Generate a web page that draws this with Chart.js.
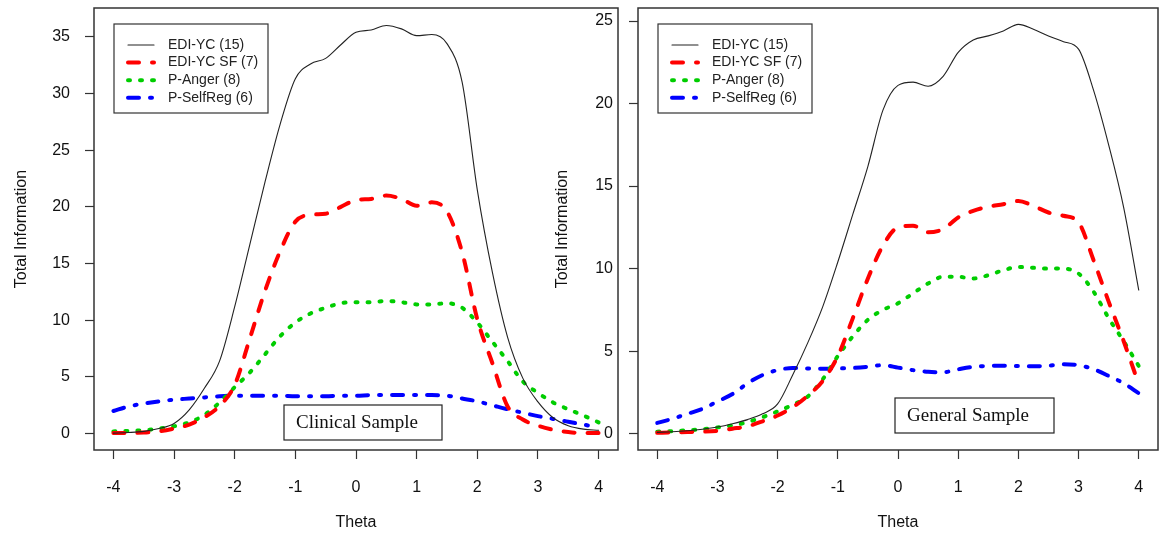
<!DOCTYPE html>
<html>
<head>
<meta charset="utf-8">
<script src="https://cdn.jsdelivr.net/npm/chart.js@4.4.0/dist/chart.umd.min.js"></script>
<style>
html, body { margin: 0; padding: 0; background: #fff; }
#wrap { position: relative; width: 1160px; height: 533px; overflow: hidden; }
canvas { position: absolute; top: 0; }
#clinical { left: 0; }
#general { left: 540px; }
</style>
</head>
<body>
<div id="wrap">
<canvas id="clinical" width="620" height="533"></canvas>
<canvas id="general" width="620" height="533"></canvas>
</div>
<script>
// theta grid the information curves were read at
var theta = [-4, -3.75, -3.5, -3.25, -3, -2.75, -2.5, -2.25, -2, -1.75, -1.5, -1.25, -1, -0.75, -0.5, -0.25,
    0, 0.25, 0.5, 0.75, 1, 1.25, 1.5, 1.75, 2, 2.25, 2.5, 2.75, 3, 3.25, 3.5, 3.75, 4];

var seriesNames = ['EDI-YC (15)', 'EDI-YC SF (7)', 'P-Anger (8)', 'P-SelfReg (6)'];

// clinical sample
var clinicalEdiYc = [0.05, 0.1, 0.2, 0.45, 0.9, 2.1, 4.0, 6.4, 11.2, 16.7, 22.2, 27.3, 31.3, 32.6, 33.1, 34.3,
    35.4, 35.6, 36.0, 35.7, 35.1, 35.2, 34.4, 31.0, 21.5, 14.2, 8.5, 4.9, 2.8, 1.4, 0.7, 0.4, 0.3];
var clinicalEdiYcSf = [0.05, 0.05, 0.1, 0.2, 0.45, 0.8, 1.45, 2.45, 4.3, 8.4, 12.6, 16.1, 18.7, 19.3, 19.4, 20.0,
    20.6, 20.7, 21.0, 20.7, 20.1, 20.4, 19.6, 16.0, 10.1, 6.2, 2.4, 1.25, 0.7, 0.35, 0.15, 0.05, 0.05];
var clinicalAnger = [0.2, 0.25, 0.3, 0.45, 0.65, 1.0, 1.65, 2.75, 4.1, 5.4, 7.0, 8.6, 9.8, 10.6, 11.1, 11.5,
    11.6, 11.6, 11.7, 11.6, 11.4, 11.4, 11.5, 11.1, 9.8, 8.1, 6.4, 4.6, 3.6, 2.75, 2.15, 1.6, 1.0];
var clinicalSelfReg = [2.0, 2.4, 2.65, 2.85, 3.0, 3.1, 3.2, 3.3, 3.35, 3.35, 3.35, 3.35, 3.3, 3.3, 3.3, 3.35,
    3.35, 3.4, 3.4, 3.4, 3.4, 3.4, 3.35, 3.1, 2.85, 2.5, 2.15, 1.85, 1.55, 1.3, 1.05, 0.8, 0.55];

// general sample
var generalEdiYc = [0.08, 0.12, 0.18, 0.27, 0.4, 0.6, 0.85, 1.2, 1.8, 3.55, 5.5, 7.7, 10.4, 13.3, 16.2, 19.6,
    21.1, 21.3, 21.05, 21.65, 23.1, 23.85, 24.1, 24.4, 24.8, 24.5, 24.1, 23.75, 23.3, 20.8, 17.5, 13.7, 8.7];
var generalEdiYcSf = [0.05, 0.07, 0.1, 0.12, 0.17, 0.3, 0.45, 0.75, 1.1, 1.6, 2.3, 3.2, 4.7, 7.0, 9.4, 11.4,
    12.5, 12.6, 12.2, 12.4, 13.1, 13.5, 13.75, 13.9, 14.1, 13.8, 13.4, 13.2, 12.8, 10.5, 8.0, 5.6, 3.0];
var generalAnger = [0.12, 0.15, 0.2, 0.27, 0.38, 0.5, 0.7, 1.0, 1.35, 1.75, 2.25, 3.3, 4.7, 5.9, 6.9, 7.5,
    7.9, 8.5, 9.1, 9.5, 9.5, 9.4, 9.6, 9.9, 10.1, 10.05, 10.0, 10.0, 9.7, 8.6, 7.0, 5.6, 4.1];
var generalSelfReg = [0.65, 0.9, 1.2, 1.5, 1.95, 2.4, 3.05, 3.55, 3.85, 3.98, 3.95, 3.93, 3.95, 3.98, 4.05, 4.15,
    4.0, 3.85, 3.75, 3.72, 3.9, 4.05, 4.1, 4.12, 4.1, 4.08, 4.12, 4.2, 4.15, 3.9, 3.5, 3.05, 2.45];

var thetaTicks = [-4, -3, -2, -1, 0, 1, 2, 3, 4];
var clinicalYTicks = [0, 5, 10, 15, 20, 25, 30, 35];
var generalYTicks = [0, 5, 10, 15, 20, 25];

var SANS = '"Liberation Sans", Arial, sans-serif';
var SERIF = '"Liberation Serif", "Times New Roman", serif';
var lineStyles = [
    {color: '#222222', width: 1.1, dash: []},
    {color: '#ff0000', width: 4, dash: [11, 13]},
    {color: '#00cd00', width: 4, dash: [2, 10]},
    {color: '#0000ff', width: 4, dash: [11, 11, 2, 11]}
];

// R-like box, legend and the sample label
var panelDecor = {
    id: 'panelDecor',
    afterDatasetsDraw: function(chart, args, opts) {
        var ctx = chart.ctx, a = chart.chartArea;
        ctx.save();
        ctx.strokeStyle = '#333';
        ctx.lineWidth = 1.5;
        ctx.strokeRect(a.left, a.top, a.right - a.left, a.bottom - a.top);

        var lx = a.left + opts.legendX, ly = opts.legendY;
        ctx.lineWidth = 1.2;
        ctx.strokeRect(lx, ly, 154, 89);
        ctx.font = '14px ' + SANS;
        ctx.textBaseline = 'middle';
        ctx.textAlign = 'left';
        chart.data.datasets.forEach(function(ds, i) {
            var y = ly + 21 + i * 17.6;
            ctx.beginPath();
            ctx.setLineDash(ds.borderDash || []);
            ctx.lineCap = 'round';
            ctx.strokeStyle = ds.borderColor;
            ctx.lineWidth = ds.borderWidth;
            ctx.moveTo(lx + 14, y);
            ctx.lineTo(lx + 40, y);
            ctx.stroke();
            ctx.setLineDash([]);
            ctx.fillStyle = '#222';
            ctx.fillText(ds.label, lx + 54, y);
        });

        var nx = a.left + opts.noteX, ny = opts.noteY;
        ctx.strokeStyle = '#222';
        ctx.lineWidth = 1.2;
        ctx.strokeRect(nx, ny, opts.noteW, 35);
        ctx.font = '19px ' + SERIF;
        ctx.fillStyle = '#111';
        ctx.fillText(opts.note, nx + 12, ny + 18);
        ctx.restore();
    }
};

function makeSeries(values, i) {
    return {
        label: seriesNames[i],
        data: theta.map(function(t, k) { return {x: t, y: values[k]}; }),
        borderColor: lineStyles[i].color,
        borderWidth: lineStyles[i].width,
        borderDash: lineStyles[i].dash,
        borderCapStyle: 'round',
        borderJoinStyle: 'round',
        cubicInterpolationMode: 'monotone',
        pointRadius: 0,
        fill: false
    };
}

function renderPanel(id, series, p) {
    var tickGrid = {drawOnChartArea: false, drawTicks: true, tickLength: 9, tickColor: '#333', tickWidth: 1.2};
    return new Chart(document.getElementById(id), {
        type: 'line',
        data: {datasets: series.map(makeSeries)},
        plugins: [panelDecor],
        options: {
            responsive: false,
            animation: false,
            events: [],
            layout: {padding: {top: 8, right: 2, left: 0, bottom: 0}},
            plugins: {
                legend: {display: false},
                tooltip: {enabled: false},
                panelDecor: {legendX: 20, legendY: 24, noteX: p.noteX, noteY: p.noteY, noteW: p.noteW, note: p.note}
            },
            scales: {
                x: {
                    type: 'linear', min: p.xMin, max: p.xMax,
                    afterBuildTicks: function(s) { s.ticks = thetaTicks.map(function(v) { return {value: v}; }); },
                    afterFit: function(s) { s.height = 83; s.paddingLeft = 0; s.paddingRight = 0; },
                    grid: tickGrid,
                    border: {display: false},
                    ticks: {color: '#111', padding: 21, maxRotation: 0, autoSkip: false,
                        font: {size: 16, family: SANS, lineHeight: 1},
                        callback: function(v) { return String(v); }},
                    title: {display: true, text: 'Theta', color: '#111',
                        font: {size: 16, family: SANS}, padding: {top: 0, bottom: 1}}
                },
                y: {
                    type: 'linear', min: p.yMin, max: p.yMax,
                    afterBuildTicks: function(s) { s.ticks = p.yTicks.map(function(v) { return {value: v}; }); },
                    afterFit: function(s) { s.width = p.yWidth; s.paddingTop = 0; s.paddingBottom = 0; },
                    grid: tickGrid,
                    border: {display: false},
                    ticks: {color: '#111', padding: p.yPad, font: {size: 16, family: SANS, lineHeight: 1},
                        callback: function(v) { return String(v); }},
                    title: {display: true, text: 'Total Information', color: '#111',
                        font: {size: 16, family: SANS}, padding: {top: p.titlePad, bottom: 0}}
                }
            }
        }
    });
}

renderPanel('clinical', [clinicalEdiYc, clinicalEdiYcSf, clinicalAnger, clinicalSelfReg], {
    xMin: -4.32, xMax: 4.32, yMin: -1.44, yMax: 37.54, yTicks: clinicalYTicks,
    yWidth: 94, yPad: 15, titlePad: 12,
    note: 'Clinical Sample', noteX: 190, noteY: 405, noteW: 158
});
renderPanel('general', [generalEdiYc, generalEdiYcSf, generalAnger, generalSelfReg], {
    xMin: -4.32, xMax: 4.32, yMin: -0.99, yMax: 25.79, yTicks: generalYTicks,
    yWidth: 98, yPad: 16, titlePad: 13,
    note: 'General Sample', noteX: 257, noteY: 398, noteW: 159
});
</script>
</body>
</html>
